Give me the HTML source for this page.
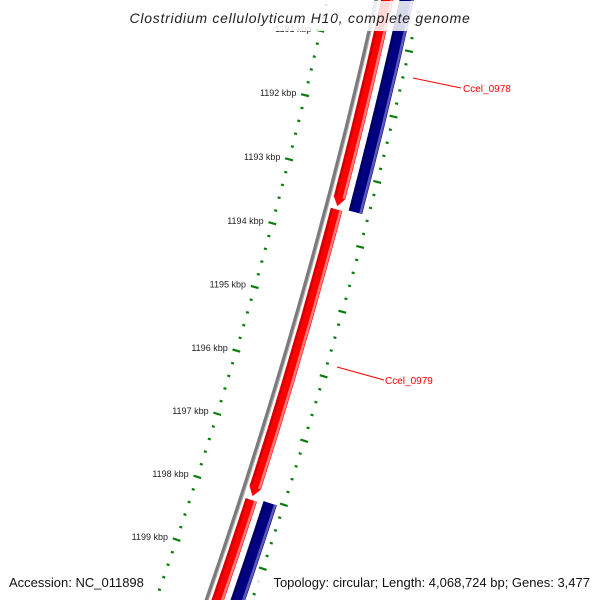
<!DOCTYPE html>
<html><head><meta charset="utf-8"><style>
html,body{margin:0;padding:0;background:#fff;overflow:hidden;}
svg{display:block;font-family:"Liberation Sans","DejaVu Sans",sans-serif;}
</style></head><body>
<svg id="map" width="600" height="600" viewBox="0 0 600 600" xmlns="http://www.w3.org/2000/svg" overflow="hidden">
<g id="ticks"></g>
<g id="backbone"></g>
<g id="features"></g>
<g id="labels"></g>
<rect x="126" y="1" width="348" height="30" fill="#fff" opacity="0.85"/>
<text x="300" y="23" text-anchor="middle" font-size="14" font-style="italic" fill="#222" letter-spacing="0.75">Clostridium cellulolyticum H10, complete genome</text>
<rect x="5" y="571" width="143" height="22" fill="#fff" opacity="0.82"/>
<text x="9" y="587" font-size="13" fill="#111">Accession: NC_011898</text>
<rect x="256" y="571" width="338" height="22" fill="#fff" opacity="0.82"/>
<text x="590" y="587" text-anchor="end" font-size="13" fill="#111">Topology: circular; Length: 4,068,724 bp; Genes: 3,477</text>
</svg>
<script>
// geometry
const CX=-4889, CY=-1166, R0=5393;
const TH0=0.2382, K=0.01237, P0=1192;
// data
const featStarts=[1180, 1193.55, 1198.08, 1180, 1198.04];
const featEnds=[1193.5, 1198.02, 1206, 1193.52, 1206];
const featStrands=[1, 1, 1, -1, -1];
const featNames=['Ccel_0978','Ccel_0979','Ccel_0980','Ccel_0977r','Ccel_0981r'];
const labelNames=['Ccel_0978','Ccel_0979'];
const tickMajors=[1190,1191,1192,1193,1194,1195,1196,1197,1198,1199,1200,1201];
const tickLabels=['1190 kbp','1191 kbp','1192 kbp','1193 kbp','1194 kbp','1195 kbp','1196 kbp','1197 kbp','1198 kbp','1199 kbp','1200 kbp','1201 kbp'];

const NS='http://www.w3.org/2000/svg';
function ang(p){return TH0+(p-P0)*K;}
function pt(p,r){const a=ang(p);return [CX+r*Math.cos(a),CY+r*Math.sin(a)];}
function f(v){return v.toFixed(2);}
function mk(tag,attrs,parent){const e=document.createElementNS(NS,tag);for(const k in attrs)e.setAttribute(k,attrs[k]);parent.appendChild(e);return e;}
function arcPath(p1,p2,r){const a=pt(p1,r),b=pt(p2,r);return 'M'+f(a[0])+' '+f(a[1])+' A'+r+' '+r+' 0 0 1 '+f(b[0])+' '+f(b[1]);}

// ticks
const tg=document.getElementById('ticks');
const rings=[{r:R0-48,lab:true},{r:R0+43,lab:false}];
for(const ring of rings){
  for(let i=0;i<tickMajors.length-1;i++){
    for(let j=0;j<5;j++){
      const p=tickMajors[i]+j*0.2;
      const major=j===0;
      const len=major?8:3;
      const a=pt(p,ring.r-len/2), b=pt(p,ring.r+len/2);
      if(a[1]<-5||a[1]>605) continue;
      const l=mk('line',{x1:f(a[0]),y1:f(a[1]),x2:f(b[0]),y2:f(b[1]),stroke:'#0a7d0a','stroke-width':2.2},tg);
      
      
      if(major&&ring.lab){
        const c=pt(p,ring.r-len/2-5);
        if(c[1]<5||c[1]>590) continue;
        const t=mk('text',{x:f(c[0]),y:f(c[1]+3),'text-anchor':'end','font-size':'9',fill:'#222'},tg);
        t.textContent=tickLabels[i];
        
        
      }
    }
  }
}

// backbone
const bg=document.getElementById('backbone');
const bb=mk('path',{d:arcPath(1185,1205,R0),stroke:'#7a7a7a','stroke-width':4,fill:'none'},bg);


const bb2=mk('path',{d:arcPath(1185,1205,R0+1.5),stroke:'#b0b0b0','stroke-width':1,fill:'none'},bg);



// features
const fg=document.getElementById('features');
const HEAD=0.13;
for(let i=0;i<featStarts.length;i++){
  const fwd=featStrands[i]>0;
  const rc=fwd?R0+10.5:R0+29.5;
  const w=fwd?12:14;
  const ri=rc-w/2, ro=rc+w/2;
  const s=featStarts[i], e=featEnds[i];
  let d;
  if(fwd){
    const eb=e-HEAD;
    const a1=pt(s,ro),a2=pt(eb,ro),tip=pt(e,rc),b1=pt(eb,ri),b2=pt(s,ri);
    d='M'+f(a1[0])+' '+f(a1[1])+' A'+ro+' '+ro+' 0 0 1 '+f(a2[0])+' '+f(a2[1])+' L'+f(tip[0])+' '+f(tip[1])+' L'+f(b1[0])+' '+f(b1[1])+' A'+ri+' '+ri+' 0 0 0 '+f(b2[0])+' '+f(b2[1])+' Z';
  } else {
    const a1=pt(s,ro),a2=pt(e,ro),b1=pt(e,ri),b2=pt(s,ri);
    d='M'+f(a1[0])+' '+f(a1[1])+' A'+ro+' '+ro+' 0 0 1 '+f(a2[0])+' '+f(a2[1])+' L'+f(b1[0])+' '+f(b1[1])+' A'+ri+' '+ri+' 0 0 0 '+f(b2[0])+' '+f(b2[1])+' Z';
  }
  const body=mk('path',{d:d,fill:fwd?'#ff0000':'#000080'},fg);
  
  
  const hiEnd=fwd?e-HEAD:e;
  const hi=mk('path',{d:arcPath(s,hiEnd,ro-1.8),stroke:fwd?'#ff7a7a':'#5a5ab8','stroke-width':2.5,fill:'none'},fg);
  
  
  const sh=mk('path',{d:arcPath(s,hiEnd,ri+1.5),stroke:fwd?'#c80000':'#00005a','stroke-width':2,fill:'none'},fg);
  
  
}

// labels
const lg=document.getElementById('labels');
const labelPos=[[413,78,461,88,463,92],[337,367,384,380,385,384]];
for(let i=0;i<labelNames.length;i++){
  const q=labelPos[i];
  const ln=mk('line',{x1:q[0],y1:q[1],x2:q[2],y2:q[3],stroke:'#ff0000','stroke-width':1},lg);
  
  
  const t=mk('text',{x:q[4],y:q[5],'font-size':'10',fill:'#ff0000'},lg);
  t.textContent=labelNames[i];
  
  
}
</script>
</body></html>
